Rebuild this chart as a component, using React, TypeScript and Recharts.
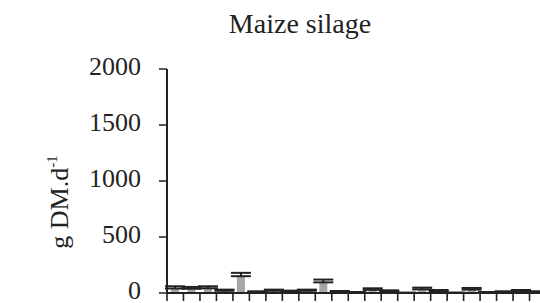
import React from 'react';
import { BarChart, Bar, XAxis, YAxis, ErrorBar } from 'recharts';

const categories = [
  'c1', 'c2', 'c3', 'c4', 'c5', 'c6', 'c7', 'c8', 'c9', 'c10', 'c11', 'c12',
  'c13', 'c14', 'c15', 'c16', 'c17', 'c18', 'c19', 'c20', 'c21', 'c22', 'c23',
];
const means = [40, 38, 42, 20, 150, 10, 20, 15, 20, 95, 12, 6, 28, 16, 2, 32, 18, 2, 30, 6, 10, 18, 10];
const errors = [20, 16, 18, 10, 30, 5, 10, 6, 10, 25, 6, 3, 14, 8, 0, 16, 9, 1, 15, 3, 5, 9, 5];
const yTicks = [0, 500, 1000, 1500, 2000];
const boundaryTicks = categories.map((_, i) => i).concat([categories.length]);

// each category sits in the middle of its slot, ticks mark the slot edges
const data = categories.map((name, i) => ({ name, x: i + 0.5, value: means[i], err: [0, errors[i]] }));

const serif = 'Liberation Serif, Times New Roman, serif';

const YLabel = () => (
  <text
    x={68}
    y={202}
    transform="rotate(-90 68 202)"
    textAnchor="middle"
    fontFamily={serif}
    fontSize={26}
    fill="#222"
  >
    g DM.d
    <tspan fontSize={15} dy={-11}>-1</tspan>
  </text>
);

const YTick = (props: any) => (
  <text x={props.x} y={props.y} dy={6} textAnchor="end" fontFamily={serif} fontSize={26} fill="#222">
    {props.payload.value}
  </text>
);

// tick mark hanging below the x axis
const XTick = (props: any) => (
  <line x1={props.x} x2={props.x} y1={props.y} y2={props.y + 8} stroke="#222" strokeWidth={1.6} />
);

export default function App() {
  return (
    <div style={{ position: 'absolute', left: 0, top: 0, width: 540, height: 303, overflow: 'hidden', background: '#fff' }}>
      <div
        style={{
          position: 'absolute',
          left: 200,
          top: 8,
          width: 200,
          textAlign: 'center',
          fontFamily: serif,
          fontSize: 28,
          color: '#222',
          lineHeight: '32px',
        }}
      >
        Maize silage
      </div>
      <BarChart width={560} height={303} data={data} margin={{ top: 69, right: 14, bottom: 0, left: 0 }}>
        <XAxis
          dataKey="x"
          type="number"
          domain={[0, categories.length]}
          ticks={boundaryTicks}
          interval={0}
          allowDataOverflow
          height={10}
          tickSize={0}
          tickMargin={0}
          tickLine={false}
          tick={<XTick />}
          axisLine={{ stroke: '#222', strokeWidth: 2 }}
        />
        <YAxis
          width={167}
          domain={[0, 2000]}
          ticks={yTicks}
          interval={0}
          tickSize={8}
          tickMargin={18}
          axisLine={{ stroke: '#222', strokeWidth: 2 }}
          tickLine={{ stroke: '#222', strokeWidth: 1.5 }}
          tick={<YTick />}
          label={<YLabel />}
        />
        <Bar dataKey="value" fill="#a6a6a6" barSize={8} isAnimationActive={false}>
          <ErrorBar dataKey="err" direction="y" width={10} stroke="#222" strokeWidth={2} />
        </Bar>
      </BarChart>
    </div>
  );
}
